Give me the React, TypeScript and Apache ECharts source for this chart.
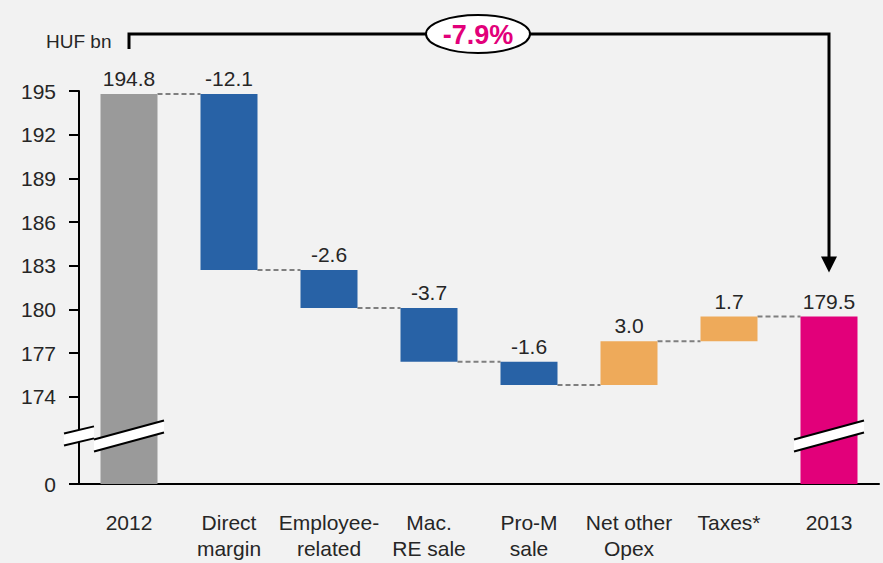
import React, { useEffect, useRef } from "react";
import * as echarts from "echarts";

const categories = ["2012", "Direct\nmargin", "Employee-\nrelated", "Mac.\nRE sale", "Pro-M\nsale", "Net other\nOpex", "Taxes*", "2013"];
// start/end totals and changes (HUF bn)
const changes = [194.8, -12.1, -2.6, -3.7, -1.6, 3.0, 1.7, 179.5];
const kinds = ["total", "delta", "delta", "delta", "delta", "delta", "delta", "total"];
const barLabels = ["194.8", "-12.1", "-2.6", "-3.7", "-1.6", "3.0", "1.7", "179.5"];
const yTicks = [168, 174, 177, 180, 183, 186, 189, 192, 195];
const changeText = "-7.9%";

const AXIS_ZERO = 168; // pseudo-value where "0" sits below the axis break
const BREAK_LEVEL = 171.3;

const COLORS = { total0: "#9a9a9a", down: "#2862a6", up: "#eeaa5a", total1: "#e2007a" };
const FONT = "'Liberation Sans', Arial, sans-serif";
const TXT = "#262626";

export default function App() {
  const ref = useRef<HTMLDivElement>(null);
  useEffect(() => {
    document.body.style.margin = "0";
    const chart = echarts.init(ref.current!, null, { renderer: "svg" });

    const bases: number[] = [];
    const heights: number[] = [];
    const colors: string[] = [];
    const levels: number[] = [];
    let running = 0;
    changes.forEach((c, i) => {
      if (kinds[i] === "total") {
        bases.push(AXIS_ZERO);
        heights.push(c - AXIS_ZERO);
        running = c;
        colors.push(i === 0 ? COLORS.total0 : COLORS.total1);
      } else {
        const next = running + c;
        bases.push(Math.min(running, next));
        heights.push(Math.abs(c));
        colors.push(c < 0 ? COLORS.down : COLORS.up);
        running = next;
      }
      levels.push(running);
    });

    const connectorData = levels.slice(0, levels.length - 1).map((l, i) => [i, l]);
    const breakData = [[0, BREAK_LEVEL, 1], [categories.length - 1, BREAK_LEVEL, 1], [0, BREAK_LEVEL, 0]];

    chart.setOption({
      animation: false,
      backgroundColor: "#f2f2f2",
      textStyle: { fontFamily: FONT },
      grid: { left: 79, right: 4, top: 91, bottom: 79, containLabel: false },
      xAxis: {
        type: "category",
        data: categories,
        axisLine: { lineStyle: { color: "#000", width: 2 } },
        axisTick: { show: false },
        axisLabel: { color: TXT, fontSize: 21, lineHeight: 26, margin: 25, fontFamily: FONT, interval: 0 },
      },
      yAxis: {
        type: "value",
        min: AXIS_ZERO,
        max: 195,
        splitLine: { show: false },
        axisLine: { show: true, lineStyle: { color: "#000", width: 2 } },
        axisTick: { show: true, length: 10, lineStyle: { color: "#000", width: 2 }, customValues: yTicks },
        axisLabel: {
          color: TXT,
          fontSize: 21,
          margin: 23,
          fontFamily: FONT,
          customValues: yTicks,
          formatter: (v: number) => (v === AXIS_ZERO ? "0" : String(v)),
        },
      },
      series: [
        {
          type: "bar",
          stack: "w",
          barWidth: 57,
          silent: true,
          itemStyle: { color: "transparent" },
          data: bases,
        },
        {
          type: "bar",
          stack: "w",
          barWidth: 57,
          data: heights.map((h, i) => ({ value: h, itemStyle: { color: colors[i] } })),
          label: {
            show: true,
            position: "top",
            distance: 5,
            color: TXT,
            fontSize: 21,
            fontFamily: FONT,
            formatter: (p: any) => barLabels[p.dataIndex],
          },
        },
        {
          type: "custom",
          z: 1,
          data: connectorData,
          renderItem: (params: any, api: any) => {
            const i = api.value(0);
            const l = api.value(1);
            const a = api.coord([i, l]);
            const b = api.coord([i + 1, l]);
            const half = 57 / 2;
            return {
              type: "line",
              shape: { x1: a[0] + half, y1: a[1], x2: b[0] - half, y2: b[1] },
              style: { stroke: "#7f7f7f", lineWidth: 2, lineDash: [5, 3] },
            };
          },
        },
        {
          type: "custom",
          z: 10,
          data: breakData,
          renderItem: (params: any, api: any) => {
            const i = api.value(0);
            const onBar = api.value(2) === 1;
            const p = api.coord([i, api.value(1)]);
            const band = api.size([1, 0])[0];
            const cx = onBar ? p[0] : p[0] - band / 2;
            const hw = onBar ? 35 : 15;
            const slope = onBar ? 0.27 : 0.24;
            const th = 12;
            const x1 = cx - hw, x2 = cx + hw;
            const yt1 = p[1] - th / 2 + hw * slope;
            const yt2 = p[1] - th / 2 - hw * slope;
            return {
              type: "group",
              children: [
                { type: "polygon", shape: { points: [[x1, yt1], [x2, yt2], [x2, yt2 + th], [x1, yt1 + th]] }, style: { fill: "#ffffff" } },
                { type: "line", shape: { x1, y1: yt1, x2, y2: yt2 }, style: { stroke: "#000", lineWidth: 2 } },
                { type: "line", shape: { x1, y1: yt1 + th, x2, y2: yt2 + th }, style: { stroke: "#000", lineWidth: 2 } },
              ],
            };
          },
        },
      ],
    });

    const x0 = chart.convertToPixel({ xAxisIndex: 0 }, 0) as number;
    const x7 = chart.convertToPixel({ xAxisIndex: 0 }, categories.length - 1) as number;
    const yEnd = chart.convertToPixel({ yAxisIndex: 0 }, changes[changes.length - 1]) as number;
    const topY = 34;
    const cx = 478;
    chart.setOption({
      graphic: [
        { type: "text", left: 46, top: 32, style: { text: "HUF bn", fontSize: 19, fill: TXT, fontFamily: FONT } },
        {
          type: "polyline",
          shape: { points: [[x0, 49], [x0, topY], [x7, topY], [x7, yEnd - 58]] },
          style: { stroke: "#000", lineWidth: 3, fill: null },
          z: 5,
        },
        {
          type: "polygon",
          shape: { points: [[x7 - 8, yEnd - 60], [x7 + 8, yEnd - 60], [x7, yEnd - 44]] },
          style: { fill: "#000" },
          z: 6,
        },
        {
          type: "ellipse",
          shape: { cx, cy: topY, rx: 52, ry: 19 },
          style: { fill: "#fff", stroke: "#000", lineWidth: 2 },
          z: 7,
        },
        {
          type: "text",
          x: cx,
          y: topY + 1,
          style: { text: changeText, fill: "#e2007a", fontSize: 27, fontWeight: "bold", fontFamily: FONT, align: "center", verticalAlign: "middle" },
          z: 8,
        },
      ],
    });

    return () => chart.dispose();
  }, []);
  return <div ref={ref} style={{ width: 883, height: 563 }} />;
}
